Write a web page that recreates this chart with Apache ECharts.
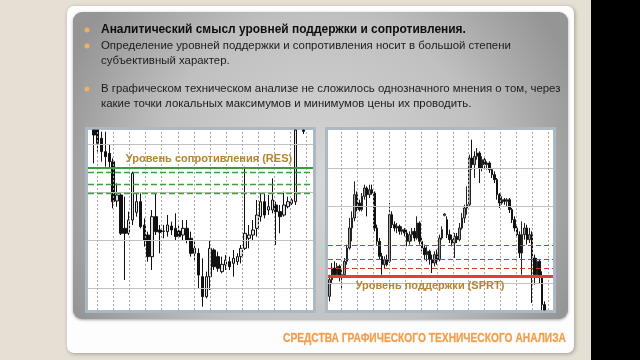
<!DOCTYPE html>
<html><head><meta charset="utf-8">
<script src="https://cdn.jsdelivr.net/npm/echarts@6/dist/echarts.min.js"></script>
<style>html,body{margin:0;padding:0;background:#e6dfd4;}#c{width:640px;height:360px;}</style>
</head><body><div id="c"></div>
<script>
// ---- DATA (price units; candle = [open, close, low, high]); values beyond the visible frame are read as the frame edge ----
const E = ['-', '-', '-', '-'];
const leftCandles = [
  E,
  [594,579,494,594],[594,554,529,594],[569,529,499,589],[529,514,484,589],[524,499,479,549],
  [499,379,359,509],[381,399,364,434],[399,284,279,404],[299,284,144,394],[284,324,279,349],
  [324,464,309,469],[347,379,334,404],[379,304,299,404],[309,264,244,329],[279,214,199,289],
  [214,334,174,354],[334,289,279,404],[294,287,224,309],[291,290,269,309],[289,309,274,339],
  [306,294,279,319],[299,274,264,344],[291,274,269,309],[279,299,264,324],[299,264,254,324],
  [269,224,214,289],[224,239,199,264],[224,159,119,239],[154,94,64,209],[94,154,89,169],
  [154,239,114,264],[234,184,174,239],[214,179,169,229],[169,191,164,214],[189,204,174,219],
  [199,184,174,214],[194,209,154,234],[199,214,189,224],[214,239,194,249],[239,284,234,484],
  [269,279,239,309],[279,294,264,324],[299,339,274,384],[334,379,319,404],[379,339,329,404],
  [354,364,339,399],[354,384,344,449],[369,349,249,379],[349,334,284,369],[339,369,334,409],
  [364,379,359,394],[374,384,369,389],[379,594,369,594],
  E,[594,590,582,594],E,E
];
const rightCandles = [
  [95,145,80,160],[145,180,135,195],[180,160,150,200],[160,185,150,195],[185,155,140,190],
  [155,160,115,175],[160,200,155,210],[200,240,190,250],[240,300,235,330],[300,330,260,350],
  [330,400,320,440],[400,360,350,410],[375,355,350,385],[355,395,350,405],[395,420,385,430],
  [420,400,335,425],[400,415,390,430],[415,405,400,430],[405,300,290,410],[300,260,250,310],
  [260,215,205,270],[215,190,160,225],[190,205,180,215],[205,190,185,220],[200,340,195,375],
  [340,310,300,350],[310,300,290,320],[300,305,285,315],[305,290,280,310],[290,295,280,305],
  [295,285,275,300],[285,260,245,295],[260,280,250,290],[280,290,260,300],[290,270,260,300],
  [270,315,265,335],[315,260,250,320],[260,240,230,270],[240,220,205,250],[220,230,200,245],
  [230,205,190,235],[205,195,165,220],[195,220,185,230],[220,205,190,235],[205,270,200,280],
  [270,295,265,305],[338,342,335,345],[325,280,270,335],[280,265,255,295],[265,255,245,280],
  [255,275,210,285],[275,265,255,285],[265,300,260,315],[300,330,295,345],[330,360,315,370],
  [360,370,340,425],[370,510,365,520],[510,490,475,565],[490,515,450,530],[515,525,505,540],
  [525,480,435,530],[480,505,470,515],[505,490,480,510],[490,495,475,500],[495,475,465,500],
  [475,460,450,480],[460,445,435,470],[445,400,385,450],[400,375,360,405],[375,385,370,395],
  [385,380,370,390],[380,385,365,390],[385,355,345,390],[355,325,315,360],[325,300,290,335],
  [300,280,270,310],[280,225,210,290],[225,280,160,320],[280,300,265,315],[300,265,250,310],
  [265,280,255,300],[280,210,75,290],[210,160,130,220],[160,200,150,210],[200,155,135,205],
  [155,70,54,170],[70,54,54,80],E,E,E
];
const leftCategories = leftCandles.map((d, i) => 'L' + (i + 1));
const rightCategories = rightCandles.map((d, i) => 'R' + (i + 1));
const resLevels = [482, 467, 431, 404];   // first = main resistance (solid)
const sprtLevels = [154, 178, 207, 249];  // first = main support (solid)
const leftGridPrices = [120, 264, 407, 550];
const rightGridPrices = [134, 364, 479];
const textLines = [
  'Аналитический смысл уровней поддержки и сопротивления.',
  'Определение уровней поддержки и сопротивления носит в большой степени',
  'субъективный характер.',
  'В графическом техническом анализе не сложилось однозначного мнения о том, через',
  'какие точки локальных максимумов и минимумов цены их проводить.'
];
const resLabel = 'Уровень сопротивления (RES)';
const sprtLabel = 'Уровень поддержки (SPRT)';
const footer = 'СРЕДСТВА ГРАФИЧЕСКОГО ТЕХНИЧЕСКОГО АНАЛИЗА';

// ---- LAYOUT ----
const PMIN = 54, PMAX = 594;
const G = [{left: 88, top: 130, width: 225, height: 180}, {left: 328, top: 130, width: 225, height: 180}];
const vGrid = [{start: 9.3, step: 16.1}, {start: 13.5, step: 15.9}];
const FAM = '"Liberation Sans", Arial, sans-serif';

const mctx = document.createElement('canvas').getContext('2d');
function measure(text, font) { mctx.font = font; return mctx.measureText(text).width; }
function fitSize(text, weight, target) { return 20 * target / measure(text, weight + ' 20px ' + FAM); }
const titleSize = fitSize(textLines[0], 'bold', 365);
const bodySize = fitSize(textLines[3], 'normal', 460);
const footerFont = 'bold 13px ' + FAM;
const footerScale = 283 / measure(footer, footerFont);

const chart = echarts.init(document.getElementById('c'), null, {renderer: 'canvas'});

function vLines(k) {
  const out = [];
  for (let x = vGrid[k].start; x < G[k].width; x += vGrid[k].step) out.push({xAxis: x});
  return out;
}
const silentLine = {silent: true, symbol: ['none', 'none'], label: {show: false}, animation: false, emphasis: {disabled: true}};

function levelLines(levels, solid, dash) {
  return levels.map((v, i) => ({yAxis: v, lineStyle: i === 0 ? solid : dash}));
}

const leftStyle = {color: '#e2e2e2', color0: '#111', borderColor: '#111', borderColor0: '#111', borderWidth: 1};
const rightStyle = {color: '#a0a0a0', color0: '#111', borderColor: '#222', borderColor0: '#111', borderWidth: 1};

const bodyFont = bodySize.toFixed(2) + 'px ' + FAM;
const option = {
  backgroundColor: '#e6dfd4',
  animation: false,
  grid: G.map(g => Object.assign({containLabel: false}, g)),
  xAxis: [
    {type: 'category', gridIndex: 0, data: leftCategories, show: false},
    {type: 'value', gridIndex: 0, min: 0, max: G[0].width, show: false},
    {type: 'category', gridIndex: 1, data: rightCategories, show: false},
    {type: 'value', gridIndex: 1, min: 0, max: G[1].width, show: false}
  ],
  yAxis: [
    {type: 'value', gridIndex: 0, min: PMIN, max: PMAX, show: false, splitLine: {show: false}},
    {type: 'value', gridIndex: 1, min: PMIN, max: PMAX, show: false, splitLine: {show: false}}
  ],
  series: [
    {type: 'line', xAxisIndex: 0, yAxisIndex: 0, data: [], z: 1,
     markLine: Object.assign({}, silentLine, {lineStyle: {color: '#c2c2c2', width: 1, type: 'solid'}, data: leftGridPrices.map(v => ({yAxis: v}))})},
    {type: 'line', xAxisIndex: 1, yAxisIndex: 0, data: [], z: 1,
     markLine: Object.assign({}, silentLine, {lineStyle: {color: '#a8a8a8', width: 1, type: [2, 2]}, data: vLines(0)})},
    {type: 'line', xAxisIndex: 2, yAxisIndex: 1, data: [], z: 1,
     markLine: Object.assign({}, silentLine, {lineStyle: {color: '#c2c2c2', width: 1, type: 'solid'}, data: rightGridPrices.map(v => ({yAxis: v}))})},
    {type: 'line', xAxisIndex: 3, yAxisIndex: 1, data: [], z: 1,
     markLine: Object.assign({}, silentLine, {lineStyle: {color: '#a8a8a8', width: 1, type: [2, 2]}, data: vLines(1)})},
    {type: 'candlestick', xAxisIndex: 0, yAxisIndex: 0, data: leftCandles, barWidth: 3, itemStyle: leftStyle, z: 3, clip: true,
     markLine: Object.assign({}, silentLine, {data: levelLines(resLevels,
       {color: '#3d9a3d', width: 2, type: 'solid'}, {color: '#3f9f3f', width: 1.3, type: [6, 3]})})},
    {type: 'candlestick', xAxisIndex: 2, yAxisIndex: 1, data: rightCandles, barWidth: 2, itemStyle: rightStyle, z: 3, clip: true,
     markLine: Object.assign({}, silentLine, {data: levelLines(sprtLevels,
       {color: '#e4412a', width: 3, type: 'solid'}, {color: '#d03a28', width: 1.2, type: [5, 3]})})}
  ],
  graphic: [
    {type: 'rect', z: -10, shape: {x: 591, y: 0, width: 49, height: 360}, style: {fill: '#000'}},
    {type: 'rect', z: -9, shape: {x: 67, y: 6, width: 507, height: 347, r: 7},
     style: {fill: '#fdfdfd', shadowBlur: 4, shadowColor: 'rgba(0,0,0,0.3)', shadowOffsetX: 1, shadowOffsetY: 1}},
    {type: 'rect', z: -8, shape: {x: 73, y: 12, width: 495, height: 307, r: 9},
     style: {fill: {type: 'radial', x: 0.5, y: 0.55, r: 0.9, colorStops: [{offset: 0, color: '#d6d6d6'}, {offset: 0.6, color: '#c0c0c0'}, {offset: 1, color: '#959595'}]},
             shadowBlur: 3, shadowColor: 'rgba(0,0,0,0.35)', shadowOffsetY: 1}},
    {type: 'rect', z: -7, shape: {x: 86.5, y: 128.5, width: 228, height: 183}, style: {fill: '#ffffff', stroke: '#abb9c4', lineWidth: 3}},
    {type: 'rect', z: -7, shape: {x: 326.5, y: 128.5, width: 228, height: 183}, style: {fill: '#ffffff', stroke: '#abb9c4', lineWidth: 3}},
    {type: 'circle', z: 50, shape: {cx: 87, cy: 30, r: 2.5}, style: {fill: '#f2ad6a'}},
    {type: 'circle', z: 50, shape: {cx: 87, cy: 46, r: 2.5}, style: {fill: '#f2ad6a'}},
    {type: 'circle', z: 50, shape: {cx: 87, cy: 89, r: 2.5}, style: {fill: '#f2ad6a'}},
    {type: 'text', z: 50, style: {text: textLines[0], x: 101, y: 30, font: 'bold ' + titleSize.toFixed(2) + 'px ' + FAM, fill: '#0d0d0d', verticalAlign: 'middle'}},
    {type: 'text', z: 50, style: {text: textLines[1], x: 101, y: 46, font: bodyFont, fill: '#1c1c1c', verticalAlign: 'middle'}},
    {type: 'text', z: 50, style: {text: textLines[2], x: 101, y: 61, font: bodyFont, fill: '#1c1c1c', verticalAlign: 'middle'}},
    {type: 'text', z: 50, style: {text: textLines[3], x: 101, y: 89, font: bodyFont, fill: '#1c1c1c', verticalAlign: 'middle'}},
    {type: 'text', z: 50, style: {text: textLines[4], x: 101, y: 104, font: bodyFont, fill: '#1c1c1c', verticalAlign: 'middle'}},
    {type: 'text', z: 50, style: {text: resLabel, x: 209, y: 159, font: 'bold 11px ' + FAM, fill: '#b8852f', align: 'center', verticalAlign: 'middle'}},
    {type: 'text', z: 50, style: {text: sprtLabel, x: 430, y: 286, font: 'bold 11px ' + FAM, fill: '#b8852f', align: 'center', verticalAlign: 'middle'}},
    {type: 'text', z: 50, x: 566, y: 338, scaleX: footerScale,
     style: {text: footer, x: 0, y: 0, font: footerFont, fill: '#f29c48', align: 'right', verticalAlign: 'middle', stroke: '#f8c48f', lineWidth: 0.4}}
  ]
};
chart.setOption(option);
</script></body></html>
